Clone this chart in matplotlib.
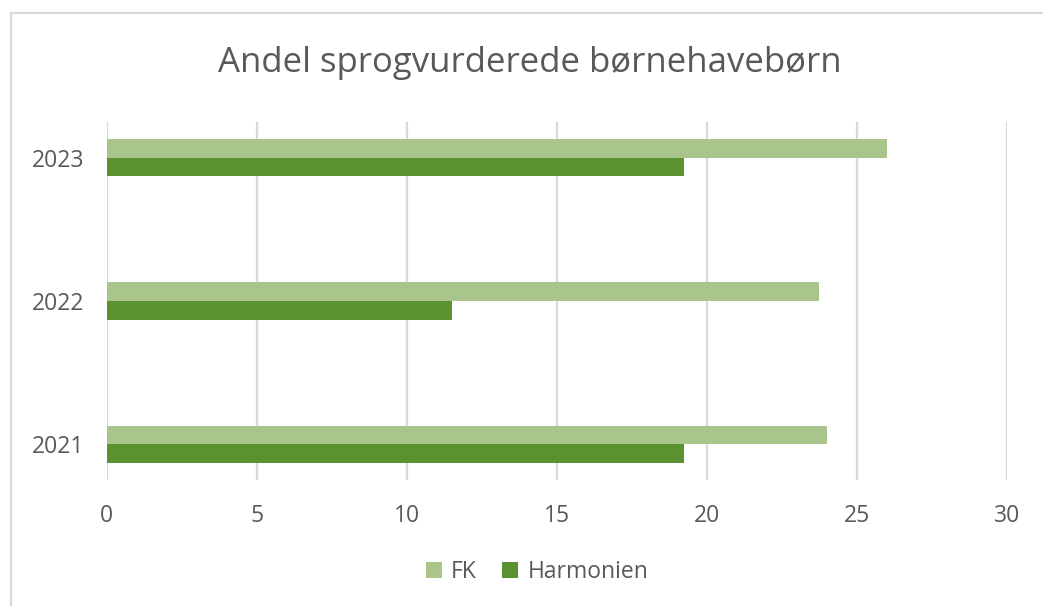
import numpy as np
import matplotlib.pyplot as plt
from matplotlib.patches import Rectangle

plt.rcParams['font.family'] = ['Open Sans', 'DejaVu Sans']

years = ["2021", "2022", "2023"]
fk = [24.0, 23.75, 26.0]
harmonien = [19.25, 11.5, 19.25]
series_names = ["FK", "Harmonien"]
x_ticks = [0, 5, 10, 15, 20, 25, 30]

FK_COLOR = "#a9c58b"
HARM_COLOR = "#5a9232"
GRID = "#d9d9d9"
TEXT = "#595959"

fig = plt.figure(figsize=(10.43, 6.06), dpi=100)
fig.patch.set_facecolor("white")

# chart frame
fig.add_artist(Rectangle((11 / 1043, -0.05), 1.1, 1 - 13 / 606 + 0.05,
                         transform=fig.transFigure, fill=False,
                         edgecolor=GRID, linewidth=1.6))

ax = fig.add_axes([106.7 / 1043, 1 - 480 / 606, 900 / 1043, 358 / 606])

y = np.arange(len(years))
h = 0.13
ax.barh(y + h / 2, fk, height=h, color=FK_COLOR, label=series_names[0], zorder=3)
ax.barh(y - h / 2, harmonien, height=h, color=HARM_COLOR, label=series_names[1], zorder=3)

ax.set_xlim(0, 30)
ax.set_ylim(-0.25, 2.25)
ax.set_xticks(x_ticks)
ax.set_xticklabels([str(t) for t in x_ticks])
ax.set_yticks(y)
ax.set_yticklabels(years)
ax.tick_params(axis="x", length=0, pad=17, labelsize=16.5, labelcolor=TEXT)
ax.tick_params(axis="y", length=0, pad=16, labelsize=16.5, labelcolor=TEXT)
ax.grid(axis="x", color=GRID, linewidth=1.6, zorder=0)
for s in ax.spines.values():
    s.set_visible(False)

fig.text(530 / 1043, 1 - 63 / 606, "Andel sprogvurderede børnehavebørn",
         ha="center", va="center", fontsize=25, color=TEXT)

fig.legend(loc="center", bbox_to_anchor=(537 / 1043, 1 - 572 / 606), ncol=2,
           frameon=False, fontsize=16.5, labelcolor=TEXT, handlelength=0.7,
           handleheight=0.7, handletextpad=0.4, columnspacing=1.1)

fig.savefig("out.png", dpi=100)
